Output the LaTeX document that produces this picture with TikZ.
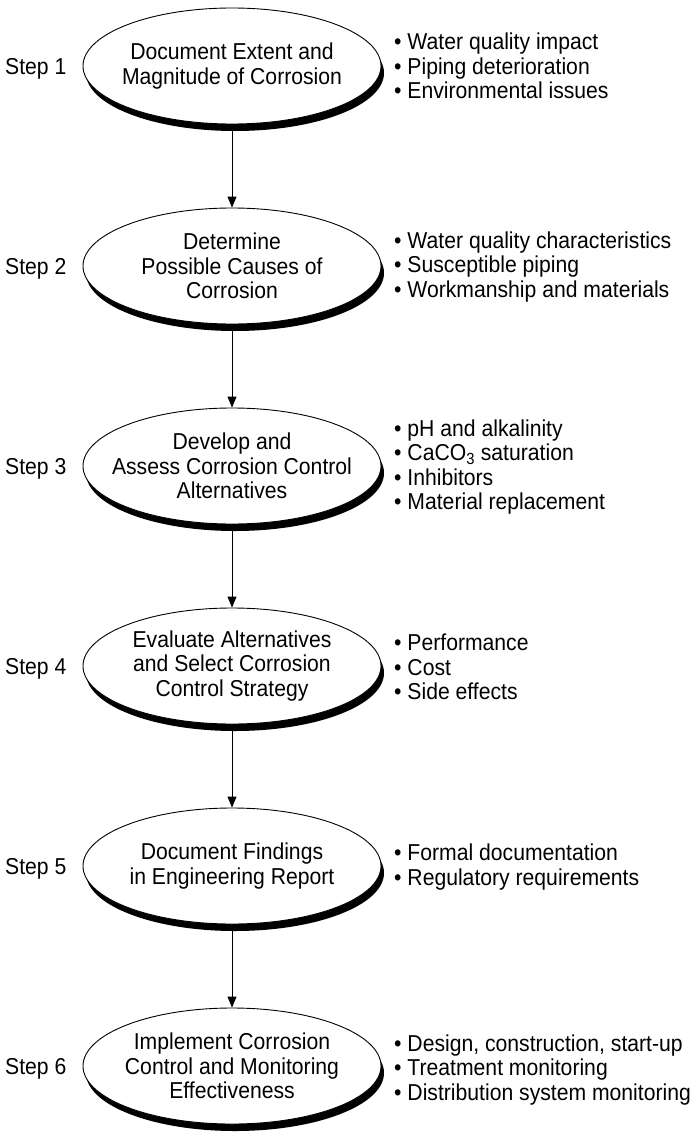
\documentclass[tikz,border=0pt]{standalone}
\usepackage{fontspec}
\setmainfont{Liberation Sans}[FakeStretch=0.92]
\usetikzlibrary{shapes.geometric,shadows,arrows.meta}
\begin{document}
\begin{tikzpicture}[x=1pt,y=-1pt,
  stepshape/.style={ellipse, draw=black, line width=0.9pt, fill=white,
    minimum width=298pt, minimum height=116pt, inner sep=0pt,
    drop shadow={shadow xshift=3pt, shadow yshift=-7pt, fill=black, opacity=1}},
  steptext/.style={inner sep=0pt, align=center, font=\fontsize{23}{24.5}\selectfont},
  steplabel/.style={anchor=west, inner sep=0pt, font=\fontsize{23}{24.5}\selectfont},
  bullets/.style={anchor=west, inner sep=0pt, align=left, font=\fontsize{23}{24.5}\selectfont},
  flow/.style={line width=0.9pt, -{Triangle[width=9pt,length=11pt]}}]
\useasboundingbox (0,0) rectangle (693,1134);

% process ellipses
\node[stepshape] (e1) at (232,66)   {};
\node[stepshape] (e2) at (232,266)  {};
\node[stepshape] (e3) at (232,466)  {};
\node[stepshape] (e4) at (232,666)  {};
\node[stepshape] (e5) at (232,866)  {};
\node[stepshape] (e6) at (232,1066) {};

% ellipse captions
\node[steptext] (t1) at (e1.center) {Document Extent and\\Magnitude of Corrosion};
\node[steptext] (t2) at (e2.center) {Determine\\Possible Causes of\\Corrosion};
\node[steptext] (t3) at (e3.center) {Develop and\\Assess Corrosion Control\\Alternatives};
\node[steptext] (t4) at (e4.center) {Evaluate Alternatives\\and Select Corrosion\\Control Strategy};
\node[steptext] (t5) at (e5.center) {Document Findings\\in Engineering Report};
\node[steptext] (t6) at (e6.center) {Implement Corrosion\\Control and Monitoring\\Effectiveness};

% step labels
\node[steplabel] (s1) at (5,69)   {Step 1};
\node[steplabel] (s2) at (5,269)  {Step 2};
\node[steplabel] (s3) at (5,469)  {Step 3};
\node[steplabel] (s4) at (5,669)  {Step 4};
\node[steplabel] (s5) at (5,869)  {Step 5};
\node[steplabel] (s6) at (5,1069) {Step 6};

% bullet lists
\node[bullets] (b1) at (394,66) {• Water quality impact\\• Piping deterioration\\• Environmental issues};
\node[bullets] (b2) at (394,267) {• Water quality characteristics\\• Susceptible piping\\• Workmanship and materials};
\node[bullets] (b3) at (394,467) {• pH and alkalinity\\• CaCO\textsubscript{3} saturation\\• Inhibitors\\• Material replacement};
\node[bullets] (b4) at (394,667) {• Performance\\• Cost\\• Side effects};
\node[bullets] (b5) at (394,867) {• Formal documentation\\• Regulatory requirements};
\node[bullets] (b6) at (394,1070) {• Design, construction, start-up\\• Treatment monitoring\\• Distribution system monitoring};

% connectors
\draw[flow] (e1.south) -- (e2.north);
\draw[flow] (e2.south) -- (e3.north);
\draw[flow] (e3.south) -- (e4.north);
\draw[flow] (e4.south) -- (e5.north);
\draw[flow] (e5.south) -- (e6.north);
\end{tikzpicture}
\end{document}
